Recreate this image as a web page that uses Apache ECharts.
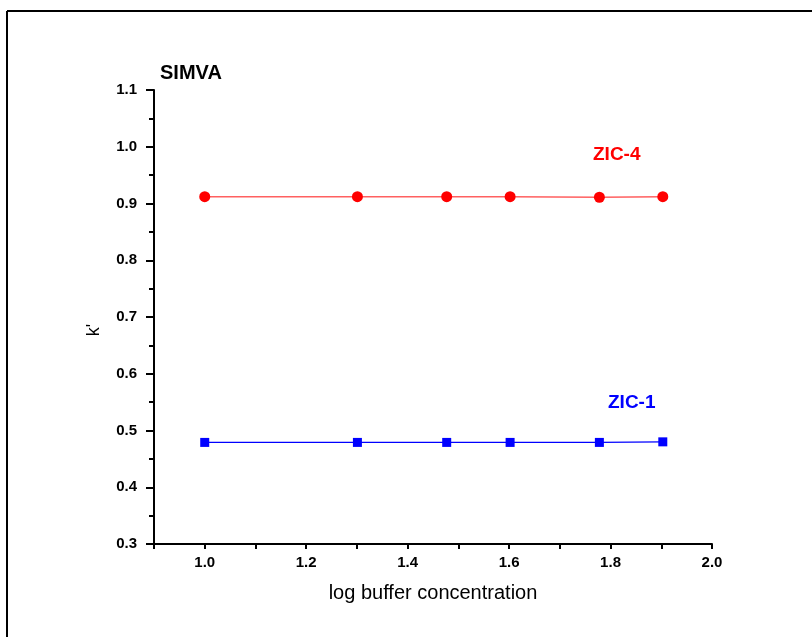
<!DOCTYPE html>
<html>
<head>
<meta charset="UTF-8">
<title>SIMVA k' vs log buffer concentration</title>
<script src="https://cdn.jsdelivr.net/npm/echarts@6/dist/echarts.min.js"></script>
<style>
  html, body { margin: 0; padding: 0; background: #fff; }
  #chart { width: 812px; height: 637px; }
</style>
</head>
<body>
<div id="chart"></div>
<script>
// data
var logConc = [1.0, 1.301, 1.477, 1.602, 1.778, 1.903];
var zic4 = [0.912, 0.912, 0.912, 0.912, 0.911, 0.912];
var zic1 = [0.479, 0.479, 0.479, 0.479, 0.479, 0.480];

function pairs(xs, ys) {
  return xs.map(function (x, i) { return [x, ys[i]]; });
}

var font = 'Arial';
var chart = echarts.init(document.getElementById('chart'));

chart.setOption({
  animation: false,
  backgroundColor: '#fff',
  grid: { left: 154, top: 90, right: 100, bottom: 93 },
  xAxis: {
    type: 'value',
    min: 0.9,
    max: 2.0,
    interval: 0.1,
    name: 'log buffer concentration',
    nameLocation: 'middle',
    nameGap: 39,
    nameTextStyle: { fontFamily: font, fontSize: 20, color: '#000' },
    axisLine: { lineStyle: { color: '#000', width: 2 } },
    axisTick: { length: 5, lineStyle: { color: '#000', width: 2 } },
    axisLabel: {
      margin: 11,
      fontFamily: font, fontSize: 15, fontWeight: 'bold', color: '#000',
      formatter: function (v) {
        var n = Math.round(v * 10);
        return n % 2 === 0 ? (n / 10).toFixed(1) : '';
      }
    },
    splitLine: { show: false }
  },
  yAxis: {
    type: 'value',
    min: 0.3,
    max: 1.1,
    interval: 0.1,
    axisLine: { show: true, lineStyle: { color: '#000', width: 2 } },
    axisTick: { show: true, length: 8, lineStyle: { color: '#000', width: 2 } },
    minorTick: { show: true, splitNumber: 2, length: 5, lineStyle: { color: '#000', width: 2 } },
    axisLabel: {
      margin: 17,
      fontFamily: font, fontSize: 15, fontWeight: 'bold', color: '#000',
      formatter: function (v) { return v.toFixed(1); }
    },
    splitLine: { show: false }
  },
  graphic: [
    { type: 'line', shape: { x1: 7, y1: 11, x2: 812, y2: 11 }, style: { stroke: '#000', lineWidth: 2 } },
    { type: 'line', shape: { x1: 7, y1: 11, x2: 7, y2: 637 }, style: { stroke: '#000', lineWidth: 2 } },
    { type: 'text', left: 160, top: 63, style: { text: 'SIMVA', font: 'bold 20px ' + font, fill: '#000' } },
    { type: 'text', left: 593, top: 145, style: { text: 'ZIC-4', font: 'bold 19px ' + font, fill: '#ff0000' } },
    { type: 'text', left: 608, top: 393, style: { text: 'ZIC-1', font: 'bold 19px ' + font, fill: '#0000ff' } },
    {
      type: 'text', x: 94, y: 330, rotation: Math.PI / 2,
      style: { text: "k'", font: '18px ' + font, fill: '#000', textAlign: 'center', textVerticalAlign: 'middle' }
    }
  ],
  series: [
    {
      name: 'ZIC-4',
      type: 'line',
      data: pairs(logConc, zic4),
      symbol: 'circle',
      symbolSize: 11,
      itemStyle: { color: '#ff0000' },
      lineStyle: { color: '#ff6060', width: 1.5 }
    },
    {
      name: 'ZIC-1',
      type: 'line',
      data: pairs(logConc, zic1),
      symbol: 'rect',
      symbolSize: 9,
      itemStyle: { color: '#0000ff' },
      lineStyle: { color: '#0000ff', width: 1.2 }
    }
  ]
});
</script>
</body>
</html>
